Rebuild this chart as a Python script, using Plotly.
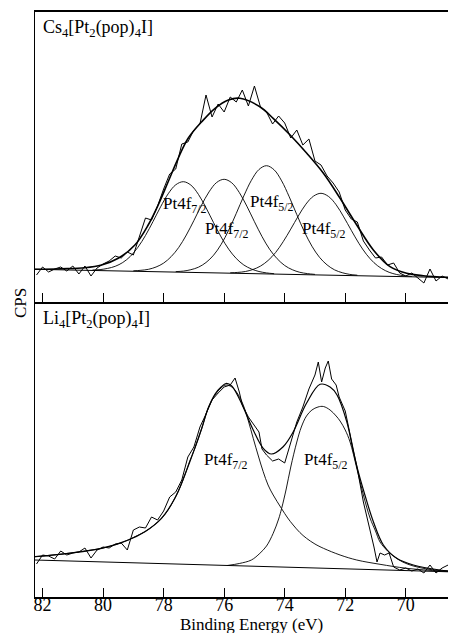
import plotly.graph_objects as go

# ---------------- data (values in counts, arbitrary units) ----------------
# Top panel: Cs4[Pt2(pop)4I]
top_raw_e = [82.2, 82.0, 81.8, 81.6, 81.4, 81.2, 81.0, 80.8, 80.6, 80.4, 80.2, 80.0,
             79.8, 79.6, 79.4, 79.2, 79.0, 78.8, 78.6, 78.4, 78.2, 78.0,
             77.8, 77.6, 77.4, 77.2, 77.0, 76.8, 76.6, 76.4, 76.2, 76.0,
             75.8, 75.6, 75.4, 75.2, 75.0, 74.8, 74.6, 74.4, 74.2, 74.0,
             73.8, 73.6, 73.4, 73.2, 73.0, 72.8, 72.6, 72.4, 72.2, 72.0,
             71.8, 71.6, 71.4, 71.2, 71.0, 70.8, 70.6, 70.4, 70.2, 70.0,
             69.8, 69.6, 69.4, 69.2, 69.0, 68.8, 68.6, 68.4]
top_raw_cps = [27, 35, 30, 33, 35, 31, 36, 28, 36, 26, 34, 38,
               41, 46, 44, 50, 47, 66, 84, 82, 96, 113,
               128, 133, 158, 160, 172, 178, 207, 185, 198, 190,
               205, 200, 212, 196, 216, 195, 190, 178, 186, 179,
               164, 172, 157, 163, 141, 137, 126, 119, 110, 92,
               83, 80, 61, 52, 44, 45, 37, 39, 29, 26,
               29, 24, 19, 33, 21, 26, 23, 26]

top_fit_e = [82.25, 81.4, 80.6, 80.05, 79.5, 78.95, 78.51, 78.18, 77.85, 77.52, 77.19,
             76.74, 76.3, 75.86, 75.48, 74.82, 74.38, 73.82, 73.27, 72.72, 72.17,
             71.62, 71.07, 70.52, 69.97, 69.42, 68.34]
top_fit_cps = [32.7, 33.3, 34.3, 37.0, 43.7, 57.0, 77.0, 97.0, 120.3, 143.7, 163.7,
               180.3, 193.7, 202.0, 203.7, 195.3, 183.7, 167.0, 148.7, 128.7, 103.7,
               77.0, 52.0, 35.3, 28.7, 26.3, 24.3]

top_base_e = [82.25, 68.34]
top_base_cps = [32.7, 24.3]

# four Pt4f components (top)
c1_e = [80.35, 80.10, 79.85, 79.60, 79.35, 79.10, 78.85, 78.60, 78.35, 78.10, 77.85, 77.60, 77.35,
        77.10, 76.85, 76.60, 76.35, 76.10, 75.85, 75.60, 75.35, 75.10, 74.85, 74.60, 74.35]
c1_cps = [32.0, 32.4, 33.6, 35.7, 39.5, 45.6, 54.7, 66.5, 80.5, 95.2, 108.2, 117.2, 120.3,
          116.9, 107.6, 94.3, 79.3, 65.0, 52.8, 43.5, 37.0, 33.0, 30.5, 29.1, 28.3]
c2_e = [79.00, 78.75, 78.50, 78.25, 78.00, 77.75, 77.50, 77.25, 77.00, 76.75, 76.50, 76.25, 76.00,
        75.75, 75.50, 75.25, 75.00, 74.75, 74.50, 74.25, 74.00, 73.75, 73.50, 73.25, 73.00]
c2_cps = [31.2, 31.7, 32.7, 35.0, 38.9, 45.4, 54.6, 67.0, 81.5, 96.7, 110.1, 119.5, 122.7,
          119.2, 109.5, 95.8, 80.3, 65.5, 52.8, 43.3, 36.5, 32.3, 29.7, 28.4, 27.6]
c3_e = [77.60, 77.35, 77.10, 76.85, 76.60, 76.35, 76.10, 75.85, 75.60, 75.35, 75.10, 74.85, 74.60,
        74.35, 74.10, 73.85, 73.60, 73.35, 73.10, 72.85, 72.60, 72.35, 72.10, 71.85, 71.60]
c3_cps = [30.4, 30.9, 32.3, 34.8, 39.5, 46.8, 57.6, 71.8, 88.6, 106.1, 121.7, 132.5, 136.3,
          132.2, 121.1, 105.2, 87.4, 70.3, 55.8, 44.7, 37.1, 32.1, 29.3, 27.6, 26.8]
c4_e = [75.80, 75.55, 75.30, 75.05, 74.80, 74.55, 74.30, 74.05, 73.80, 73.55, 73.30, 73.05, 72.80,
        72.55, 72.30, 72.05, 71.80, 71.55, 71.30, 71.05, 70.80, 70.55, 70.30, 70.05, 69.80]
c4_cps = [29.2, 29.6, 30.5, 32.5, 35.9, 41.5, 49.5, 60.3, 72.9, 86.0, 97.8, 105.8, 108.7,
          105.5, 97.2, 85.1, 71.7, 58.7, 47.7, 39.3, 33.5, 29.7, 27.5, 26.2, 25.6]

# Bottom panel: Li4[Pt2(pop)4I]
bot_raw_e = [82.2, 82.0, 81.8, 81.6, 81.4, 81.2, 81.0, 80.8, 80.6, 80.4, 80.2, 80.0,
             79.8, 79.6, 79.4, 79.2, 79.0, 78.8, 78.6, 78.4, 78.2, 78.0,
             77.8, 77.6, 77.4, 77.2, 77.0, 76.8, 76.6, 76.4, 76.2, 76.0,
             75.8, 75.64, 75.5, 75.4, 75.2, 75.0, 74.85, 74.75, 74.6, 74.4, 74.2, 74.0,
             73.8, 73.6, 73.4, 73.2, 73.0, 72.89, 72.78, 72.66, 72.56, 72.45, 72.3, 72.2, 72.0,
             71.8, 71.6, 71.4, 71.2, 71.05, 70.95, 70.85, 70.7, 70.55, 70.4, 70.2, 70.0,
             69.8, 69.6, 69.4, 69.2, 69.0, 68.8, 68.6, 68.4]
bot_raw_cps = [33, 42, 41, 38, 46, 42, 44, 45, 49, 39, 47, 50,
               49, 53, 54, 47, 67, 70, 69, 80, 77, 86,
               100, 105, 117, 140, 150, 170, 183, 197, 204, 210,
               212, 219, 205, 192, 180, 171, 165, 148, 142, 136, 138, 134,
               155, 175, 190, 208, 222, 235, 215, 229, 236, 218, 212, 200, 186,
               157, 128, 95, 71, 50, 35, 44, 42, 44, 30, 27, 29,
               26, 28, 24, 32, 24, 29, 32, 26]

bot_fit_e = [82.25, 81.15, 80.05, 79.17, 78.62, 78.07, 77.63, 77.30, 76.97, 76.74, 76.53,
             76.30, 76.10, 75.94, 75.75, 75.48, 75.04, 74.71, 74.44, 74.05, 73.72, 73.28,
             72.83, 72.50, 72.27, 71.95, 71.73, 71.57, 71.35, 71.07, 70.74, 70.30, 69.75,
             68.87, 68.34]
bot_fit_cps = [40.3, 43.7, 48.7, 57.0, 65.3, 78.7, 98.7, 122.0, 148.7, 168.7, 188.7,
               203.0, 210.0, 213.5, 211.0, 197.0, 167.0, 148.7, 143.0, 150.3, 165.0, 193.7,
               212.7, 210.0, 202.0, 175.3, 145.3, 125.3, 102.0, 75.3, 52.0, 38.7, 32.0,
               27.0, 25.5]

bot_base_e = [82.25, 68.34]
bot_base_cps = [37.0, 25.0]

p72_e = [82.25, 81.5, 81.15, 80.5, 80.05, 79.5, 79.17, 78.9, 78.62, 78.35, 78.07, 77.85,
         77.63, 77.45, 77.30, 77.15, 76.97, 76.74, 76.53, 76.30, 76.10, 75.94, 75.75,
         75.55, 75.37, 75.20, 75.04, 74.87, 74.71, 74.55, 74.38, 74.11, 73.90, 73.72,
         73.50, 73.28, 73.00, 72.72, 72.17, 71.62, 70.85, 69.97, 68.87, 68.34]
p72_cps = [40.3, 42.5, 43.7, 46.5, 48.7, 53.0, 57.0, 61.0, 65.3, 71.0, 78.7, 87.0,
           98.7, 110.0, 122.0, 135.0, 148.7, 168.7, 188.7, 202.0, 209.0, 212.0, 210.0,
           203.0, 192.0, 176.0, 158.7, 141.0, 125.3, 112.0, 102.0, 88.7, 79.0, 72.0,
           64.5, 58.7, 53.0, 48.7, 42.0, 37.0, 32.7, 28.7, 26.0, 25.3]

p52_e = [75.9, 75.5, 75.1, 74.82, 74.6, 74.38, 74.2, 74.1, 73.95, 73.8, 73.6, 73.45,
         73.28, 73.1, 72.9, 72.72, 72.5, 72.3, 72.17, 72.0, 71.84, 71.62, 71.4, 71.18,
         71.0, 70.85, 70.6, 70.41, 70.1, 69.75, 69.3, 68.9, 68.34]
p52_cps = [31.5, 33.5, 37.0, 43.7, 51.0, 63.7, 78.0, 88.7, 108.0, 130.0, 155.0, 170.0,
           181.0, 187.0, 190.0, 190.5, 187.0, 181.0, 176.0, 167.0, 155.0, 129.0, 102.0, 79.0,
           66.0, 55.0, 46.0, 41.0, 35.0, 31.0, 28.0, 26.5, 25.0]

x_ticks = [82, 80, 78, 76, 74, 72, 70]
x_range = [82.25, 68.34]

# ---------------- figure ----------------
FONT = "Liberation Serif, Times New Roman, serif"
fig = go.Figure()

def add(x, y, yaxis, width=1.0, spline=True):
    fig.add_trace(go.Scatter(
        x=x, y=y, mode="lines", xaxis="x" if yaxis == "y" else "x2", yaxis=yaxis,
        line=dict(color="black", width=width, shape="spline" if spline else "linear"),
        showlegend=False, hoverinfo="skip"))

# top panel (x2 / y2)
add(top_base_e, top_base_cps, "y2", 1.0, False)
for ex, cy in [(c1_e, c1_cps), (c2_e, c2_cps), (c3_e, c3_cps), (c4_e, c4_cps)]:
    add(ex, cy, "y2", 0.9)
add(top_raw_e, top_raw_cps, "y2", 1.0, False)
add(top_fit_e, top_fit_cps, "y2", 1.6)

# bottom panel (x / y)
add(bot_base_e, bot_base_cps, "y", 1.0, False)
add(p72_e, p72_cps, "y", 0.9)
add(p52_e, p52_cps, "y", 0.9)
add(bot_raw_e, bot_raw_cps, "y", 1.0, False)
add(bot_fit_e, bot_fit_cps, "y", 1.2)

split = 295 / 585

axis_common = dict(range=x_range, showgrid=False, zeroline=False, showline=True,
                   linecolor="black", linewidth=1.6, ticks="inside", ticklen=9,
                   tickwidth=1.2, tickcolor="black", tickvals=x_ticks)

# the page body has an 8 px margin, so the figure is 8 px smaller and shifted
fig.update_layout(
    width=448, height=625,
    margin=dict(l=27, r=0, t=4, b=36),
    paper_bgcolor="white", plot_bgcolor="white",
    font=dict(family=FONT, size=17, color="black"),
    xaxis=dict(**axis_common, anchor="y", showticklabels=True,
               ticktext=[str(t) for t in x_ticks], ticklabelstandoff=-9,
               tickfont=dict(family=FONT, size=18, color="black")),
    xaxis2=dict(**axis_common, anchor="y2", showticklabels=False, mirror=True),
    yaxis=dict(domain=[0, split], range=[0, 295], showgrid=False, zeroline=False,
               showline=True, linecolor="black", linewidth=1.4, showticklabels=False,
               ticks=""),
    yaxis2=dict(domain=[split, 1], range=[0, 290], showgrid=False, zeroline=False,
                showline=True, linecolor="black", linewidth=1.4, showticklabels=False,
                ticks=""),
)

ann = []
def label(text, x, y, yref, size=17, xanchor="center"):
    ann.append(dict(text=text, x=x, y=y, xref="x" if yref == "y" else "x2", yref=yref,
                    showarrow=False, xanchor=xanchor, yanchor="middle",
                    font=dict(family=FONT, size=size, color="black")))

label("Cs<sub>4</sub>[Pt<sub>2</sub>(pop)<sub>4</sub>I]", 82.05, 274, "y2", size=18, xanchor="left")
label("Pt4f<sub>7/2</sub>", 77.30, 97, "y2")
label("Pt4f<sub>7/2</sub>", 75.91, 72, "y2")
label("Pt4f<sub>5/2</sub>", 74.42, 99, "y2")
label("Pt4f<sub>5/2</sub>", 72.70, 72, "y2")
label("Li<sub>4</sub>[Pt<sub>2</sub>(pop)<sub>4</sub>I]", 82.05, 278, "y", size=18, xanchor="left")
label("Pt4f<sub>7/2</sub>", 75.94, 136, "y")
label("Pt4f<sub>5/2</sub>", 72.64, 136, "y")

ann.append(dict(text="Binding Energy (eV)", x=(251 - 35) / 421, y=-27 / 585, xref="paper",
                yref="paper", showarrow=False, xanchor="center", yanchor="middle",
                font=dict(family=FONT, size=17, color="black")))
ann.append(dict(text="CPS", x=-15 / 421, y=(597 - 303) / 585, xref="paper", yref="paper",
                showarrow=False, xanchor="center", yanchor="middle", textangle=-90,
                font=dict(family=FONT, size=17, color="black")))
fig.update_layout(annotations=ann)

fig.write_html("out.html")
